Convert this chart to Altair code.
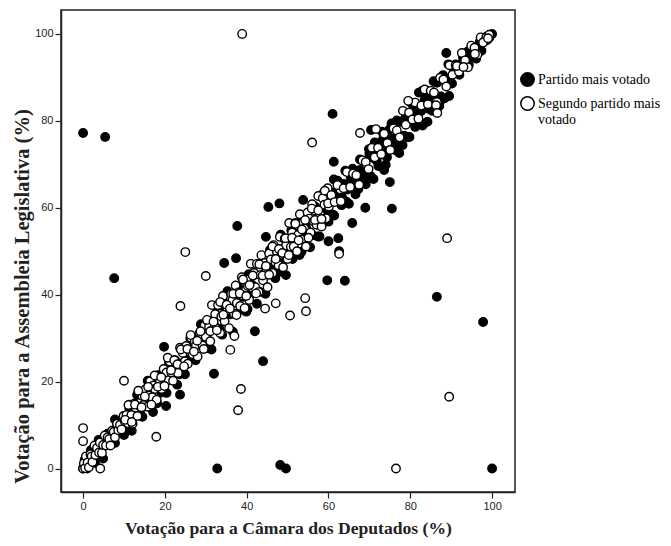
import altair as alt
import pandas as pd

series_names = ["Partido mais votado", "Segundo partido mais votado"]

# Partido mais votado (filled markers)
filled_x = [0.0, 0.4, 1.0, 1.3, 1.9, 2.4, 2.9, 3.3, 3.8, 4.4, 4.9, 5.5, 6.0, 6.6, 7.2, 7.8, 8.3, 8.9, 9.4, 10.0,
            10.6, 11.3, 11.9, 12.6, 13.2, 13.9, 14.5, 15.2, 15.8, 16.5, 17.1, 17.8, 18.4, 19.1, 19.7,
            20.4, 21.0, 21.7, 22.3, 23.0, 23.6, 24.3, 24.9, 25.6, 26.2, 26.9, 27.5, 28.2, 28.8, 29.5,
            30.1, 30.8, 31.4, 32.1, 32.7, 33.4, 34.0, 34.7, 35.3, 36.0, 36.6, 37.3, 37.9, 38.6, 39.2, 39.9,
            40.5, 41.2, 41.8, 42.5, 43.1, 43.8, 44.4, 45.1, 45.7, 46.4, 47.0, 47.7, 48.3, 49.0, 49.6,
            50.3, 50.9, 51.6, 52.2, 52.9, 53.5, 54.2, 54.8, 55.5, 56.1, 56.8, 57.4, 58.1, 58.7, 59.4, 60.0,
            60.5, 61.0, 61.4, 61.9, 62.3, 62.8, 63.2, 63.7, 64.1, 64.6, 65.0, 65.5, 65.9, 66.4, 66.8, 67.3,
            67.7, 68.2, 68.6, 69.1, 69.5, 70.0, 70.4, 70.9, 71.3, 71.8, 72.2, 72.7, 73.1, 73.6, 74.0, 74.5,
            74.9, 75.4, 75.8, 76.3, 76.7, 77.2, 77.6, 78.1, 78.5, 79.0, 79.4, 79.9, 80.3, 80.8, 81.2, 81.7,
            82.1, 82.6, 83.0, 83.5, 83.9, 84.4, 84.8, 85.3, 85.7, 86.2, 86.6, 87.1, 87.5, 88.0, 88.4, 88.9,
            89.3, 89.8, 90.2, 90.7, 91.1, 91.6, 92.0, 92.5, 92.9, 93.4, 93.8, 94.3, 94.7, 95.2, 95.6, 96.1,
            96.5, 97.0, 97.4, 97.9, 98.3, 98.8, 99.3,
            40.2, 41.3, 42.4, 43.5, 44.6, 45.7, 46.8, 47.9, 49.0, 50.1, 51.2, 52.3, 53.4, 54.5, 55.6, 56.7,
            57.8, 58.9, 60.0, 61.1, 62.2, 63.3, 64.4, 65.5, 66.6, 67.7, 68.8, 69.9, 71.0, 72.1, 73.2, 74.3,
            75.4, 76.5, 77.6, 78.7, 79.8, 80.9, 82.0, 83.1, 84.2, 85.3, 86.4, 87.5,
            0.0, 5.4, 7.6, 32.8, 48.2, 49.6, 100.0, 86.5, 97.8, 19.8, 18.1, 20.3, 23.7, 7.8, 32.0, 34.5, 37.4,
            37.7, 42.0, 44.0, 44.7, 45.3, 48.0, 53.8, 59.7, 64.0, 60.0, 62.4, 62.6, 61.0, 61.3, 61.3, 65.8,
            69.0, 70.4, 73.6, 75.0, 75.5, 77.3, 82.9, 88.8, 89.5, 94.0, 100.0]
filled_y = [0.0, 2.0, 0.0, 1.7, 4.2, 1.7, 1.3, 4.4, 6.6, 4.1, 2.3, 6.3, 8.0, 5.6, 7.4, 5.9, 10.4, 8.4, 10.8, 7.7,
            8.7, 13.8, 8.7, 13.2, 16.9, 12.9, 11.9, 17.0, 20.2, 16.1, 13.0, 19.1, 21.5, 17.5, 19.9,
            17.4, 24.4, 20.9, 24.5, 19.3, 21.7, 26.8, 21.7, 26.2, 29.9, 25.9, 24.9, 30.0, 33.2, 29.1,
            27.7, 33.9, 27.4, 32.9, 37.3, 32.1, 30.8, 36.9, 40.8, 35.5, 31.5, 38.9, 41.8, 36.6, 39.5, 36.1,
            44.7, 40.2, 44.5, 37.9, 40.7, 46.9, 40.4, 45.9, 50.3, 45.1, 43.8, 49.9, 53.8, 48.5, 44.5,
            51.9, 54.8, 49.6, 52.5, 49.1, 57.7, 53.2, 57.5, 50.9, 53.7, 59.9, 53.4, 58.9, 63.3, 58.1, 56.8,
            58.6, 63.5, 58.2, 62.5, 66.0, 61.8, 60.6, 65.5, 68.5, 64.2, 60.9, 66.8, 69.0, 64.8, 67.0, 64.3,
            71.1, 67.4, 70.8, 65.4, 67.6, 72.5, 67.2, 71.5, 75.0, 70.8, 69.6, 74.5, 77.5, 73.2, 69.9, 75.8,
            78.0, 73.8, 76.0, 73.3, 80.1, 76.4, 79.8, 74.4, 76.6, 81.5, 76.2, 80.5, 84.0, 79.8, 78.6, 83.5,
            86.5, 82.2, 78.9, 84.8, 87.0, 82.8, 85.0, 82.3, 89.1, 85.4, 88.8, 83.4, 85.6, 90.5, 85.2, 89.5,
            93.0, 88.8, 88.6, 91.6, 93.0, 91.4, 90.6, 93.2, 94.6, 92.6, 93.9, 92.8, 96.4, 94.8, 96.7, 94.3,
            95.6, 98.2, 96.1, 98.2, 99.2, 98.6, 99.1,
            36.7, 42.3, 40.6, 47.1, 40.2, 46.2, 49.2, 45.2, 53.0, 49.2, 48.2, 54.1, 49.9, 55.5, 53.8, 60.3,
            53.4, 59.4, 62.4, 58.4, 66.2, 62.4, 61.4, 67.3, 63.1, 68.7, 67.0, 73.5, 66.6, 72.6, 75.6, 71.6,
            79.4, 75.6, 74.6, 80.5, 76.3, 81.9, 80.2, 86.7, 79.8, 85.8, 88.8, 84.8,
            77.2, 76.3, 43.8, 0.0, 0.8, 0.0, 0.0, 39.5, 33.7, 28.0, 15.0, 14.4, 17.0, 11.3, 21.8, 47.3, 48.4,
            55.8, 31.6, 24.7, 53.3, 60.2, 61.0, 61.8, 43.3, 43.2, 52.3, 53.0, 50.0, 81.6, 70.6, 66.5, 56.5,
            60.0, 77.9, 68.7, 65.9, 59.8, 72.6, 86.9, 95.6, 85.7, 95.9, 100.0]

# Segundo partido mais votado (open markers)
open_x = [0.0, 0.2, 0.5, 0.7, 1.1, 1.4, 1.8, 2.1, 2.3, 2.8, 3.0, 3.4, 3.9, 4.1, 4.6, 4.9, 5.3, 5.6, 6.0, 6.4,
          6.7, 7.1, 7.5, 7.8, 8.3, 8.6, 9.0, 9.4, 9.9, 10.2,
          10.6, 11.0, 11.3, 11.8, 12.1, 12.5, 12.9, 13.3, 13.6, 14.0, 14.5, 14.8, 15.2, 15.7, 16.0, 16.4,
          16.9, 17.2, 17.6, 18.0, 18.5, 18.8, 19.2, 19.7, 20.0,
          20.4, 20.9, 21.2, 21.6, 22.0, 22.5, 22.8, 23.2, 23.7, 24.0, 24.4, 24.9, 25.2, 25.6, 26.1, 26.4,
          26.8, 27.3, 27.6, 28.0, 28.5, 28.8, 29.2, 29.7, 30.0,
          30.4, 30.8, 31.1, 31.5, 31.9, 32.3, 32.6, 33.0, 33.5, 33.8, 34.2, 34.6, 35.0, 35.3, 35.7, 36.2,
          36.5, 36.9, 37.3, 37.6, 38.0, 38.4, 38.8, 39.1, 39.5, 39.9, 40.3, 40.6, 41.0, 41.4, 41.8, 42.1,
          42.5, 42.9, 43.3, 43.6, 44.0, 44.4, 44.8, 45.1, 45.5, 45.9, 46.3, 46.6, 47.0, 47.4, 47.8, 48.1,
          48.5, 48.9, 49.3, 49.6, 50.0, 50.4, 50.8, 51.1, 51.5, 51.9, 52.3, 52.6, 53.0, 53.4, 53.8, 54.1,
          54.5, 54.9, 55.3, 55.6, 56.0, 56.4, 56.8, 57.1, 57.5, 57.9, 58.3, 58.6, 59.0, 59.4, 59.8, 60.1,
          10.3, 11.1, 11.9, 12.7, 13.5, 14.3, 15.1, 15.9, 16.7, 17.5, 18.3, 19.1, 19.9, 20.7, 21.5, 22.3,
          23.1, 23.9, 24.7, 25.5, 26.3, 27.1, 27.9, 28.7, 29.5, 30.3, 31.1, 31.9, 32.7, 33.5, 34.3, 35.1,
          35.9, 36.7, 37.5, 38.3, 39.1, 39.9, 40.7, 41.5, 42.3, 43.1, 43.9, 44.7, 45.5, 46.3, 47.1, 47.9,
          48.7, 49.5, 50.3, 51.1, 51.9, 52.7, 53.5, 54.3, 55.1, 55.9, 56.7, 57.5, 58.3, 59.1, 59.9,
          60.7, 61.5, 62.2, 63.0, 63.7, 64.5, 65.3, 66.0, 66.8, 67.5, 68.3, 69.1, 69.8, 70.6, 71.3, 72.1,
          72.9, 73.6, 74.4, 75.1, 75.9, 76.7, 77.4, 78.2, 78.9,
          79.7, 80.5, 81.2, 82.0, 82.7, 83.5, 84.3, 85.0, 85.8, 86.5, 87.3, 88.1, 88.8, 89.6, 90.3, 91.1,
          91.9, 92.6, 93.4, 94.1, 94.9, 95.7, 96.4, 97.2, 97.9, 98.6, 99.3,
          79.5, 86.3, 86.6, 91.4, 93.0, 95.8, 97.8, 99.0,
          38.9, 56.0, 67.7, 71.6, 25.0, 30.0, 23.8, 38.6, 37.9, 54.3, 54.5, 50.6, 47.1, 44.5, 37.0, 36.0, 62.6,
          89.0, 89.5, 76.5, 0.0, 0.0, 4.2, 17.9, 10.0]
open_y = [0.0, 1.2, 0.1, 2.8, 1.4, 0.3, 3.3, 2.8, 1.5, 5.3, 3.1, 4.7, 3.7, 6.0, 3.6, 5.4, 7.6, 5.3, 7.2, 6.8,
          5.3, 8.7, 8.4, 7.2, 10.3, 8.8, 10.0, 9.0, 12.1, 10.9,
          12.3, 10.4, 14.7, 12.3, 10.3, 14.9, 14.0, 12.1, 17.7, 14.2, 16.7, 14.6, 18.2, 14.2, 16.8, 20.1,
          16.4, 19.1, 18.3, 15.8, 21.1, 20.2, 18.3, 22.9, 20.3,
          22.1, 20.3, 24.6, 22.1, 20.2, 24.9, 23.9, 22.0, 27.8, 24.2, 26.6, 24.7, 28.2, 24.1, 26.9, 30.1,
          26.3, 29.2, 28.3, 25.8, 31.1, 30.2, 28.3, 32.9, 30.3,
          34.0, 32.5, 29.3, 37.6, 32.1, 35.5, 32.2, 37.6, 31.2, 35.0, 39.7, 33.9, 37.9, 36.4, 32.3, 40.2,
          38.7, 35.6, 42.1, 38.1, 40.5, 37.4, 44.0, 39.8, 36.9, 43.5, 42.0, 38.8, 47.1, 41.6, 45.0, 41.7,
          47.1, 40.6, 44.5, 49.1, 43.3, 47.3, 45.9, 41.7, 49.5, 48.1, 45.0, 51.4, 47.5, 49.9, 46.8, 53.3,
          49.2, 46.3, 52.9, 51.3, 48.2, 56.5, 51.0, 54.3, 51.1, 56.5, 50.0, 53.8, 58.5, 52.7, 56.7, 55.2,
          51.1, 58.9, 57.5, 54.3, 60.8, 56.9, 59.3, 56.1, 62.7, 58.6, 55.7, 62.2, 60.7, 57.6, 64.5, 60.3,
          11.2, 14.6, 10.7, 14.7, 17.9, 14.1, 16.6, 18.8, 14.7, 21.4, 18.8, 21.0, 19.0, 25.5, 22.6, 24.9,
          24.0, 27.4, 23.5, 27.5, 30.7, 26.9, 29.4, 31.6, 27.5, 34.2, 31.6, 33.8, 31.8, 38.3, 35.4, 37.7,
          36.8, 40.2, 35.3, 40.3, 43.5, 39.7, 42.2, 44.4, 40.3, 47.0, 44.4, 46.6, 44.6, 51.1, 48.2, 50.5,
          49.6, 53.0, 49.1, 53.1, 56.3, 52.5, 55.0, 57.2, 53.1, 59.8, 57.2, 59.4, 57.4, 63.9, 61.0,
          62.9, 61.3, 65.2, 61.5, 64.5, 68.2, 64.8, 67.9, 67.5, 65.3, 70.9, 70.5, 68.9, 73.8, 71.6, 73.8,
          72.3, 77.0, 74.9, 73.3, 78.3, 77.8, 76.2, 82.3, 79.1,
          81.9, 80.3, 84.2, 80.5, 83.5, 87.2, 83.8, 86.9, 86.5, 84.3, 89.9, 89.5, 87.9, 92.8, 90.6, 92.8,
          91.3, 95.6, 93.9, 92.3, 97.3, 96.8, 95.2, 99.2, 98.1, 99.3, 99.8,
          84.6, 83.6, 81.8, 92.6, 92.4, 95.4, 98.0, 99.0,
          100.0, 75.0, 77.2, 78.1, 49.8, 44.3, 37.4, 18.3, 13.4, 39.2, 36.2, 35.2, 38.0, 36.8, 30.5, 27.3, 49.4,
          53.0, 16.5, 0.0, 9.3, 6.3, 0.0, 7.3, 20.2]

x_ticks = [0, 20, 40, 60, 80, 100]
y_ticks = [0, 20, 40, 60, 80, 100]

df = pd.concat([
    pd.DataFrame({"x": filled_x, "y": filled_y, "serie": series_names[0]}),
    pd.DataFrame({"x": open_x, "y": open_y, "serie": series_names[1]}),
], ignore_index=True)

chart = alt.Chart(df).mark_circle(
    size=72, opacity=1, stroke="black", strokeWidth=1.4
).encode(
    x=alt.X("x:Q", scale=alt.Scale(domain=[-5.4, 105.6], nice=False, zero=False),
            axis=alt.Axis(values=x_ticks, title="Votação para a Câmara dos Deputados (%)",
                          titlePadding=8, titleFontSize=17.6)),
    y=alt.Y("y:Q", scale=alt.Scale(domain=[-5.4, 105.5], nice=False, zero=False),
            axis=alt.Axis(values=y_ticks, title="Votação para a Assembleia Legislativa (%)",
                          titleX=-39, titleY=286, titleAngle=270, titleBaseline="middle",
                          titleFontSize=20.5)),
    fill=alt.Fill("serie:N", scale=alt.Scale(domain=series_names, range=["black", "white"]),
                  legend=alt.Legend(title=None, orient="none", legendX=459, legendY=62,
                                    symbolType="circle", symbolSize=180, symbolStrokeColor="black",
                                    symbolStrokeWidth=1.5, labelFont="Liberation Serif",
                                    labelFontSize=14, labelColor="black", labelOffset=3,
                                    labelLimit=200, rowPadding=3, padding=0,
                                    labelExpr="datum.label == 'Segundo partido mais votado' ? ['Segundo partido mais', 'votado'] : datum.label")),
).properties(
    width=454, height=482,
    autosize=alt.AutoSizeParams(type="none"),
    padding={"left": 53, "top": 2, "right": 148, "bottom": 46},
).configure_view(
    stroke="#222", strokeWidth=1.5
).configure_axis(
    grid=False, domainColor="#222", domainWidth=1.5, tickColor="#222", tickSize=6, tickWidth=1.2,
    labelFont="Liberation Sans", labelFontSize=11, labelColor="#222", labelPadding=2,
    titleFont="Liberation Serif", titleFontWeight="bold", titleColor="#222"
)

chart.save("out.html", embed_options={"renderer": "svg", "actions": False})
